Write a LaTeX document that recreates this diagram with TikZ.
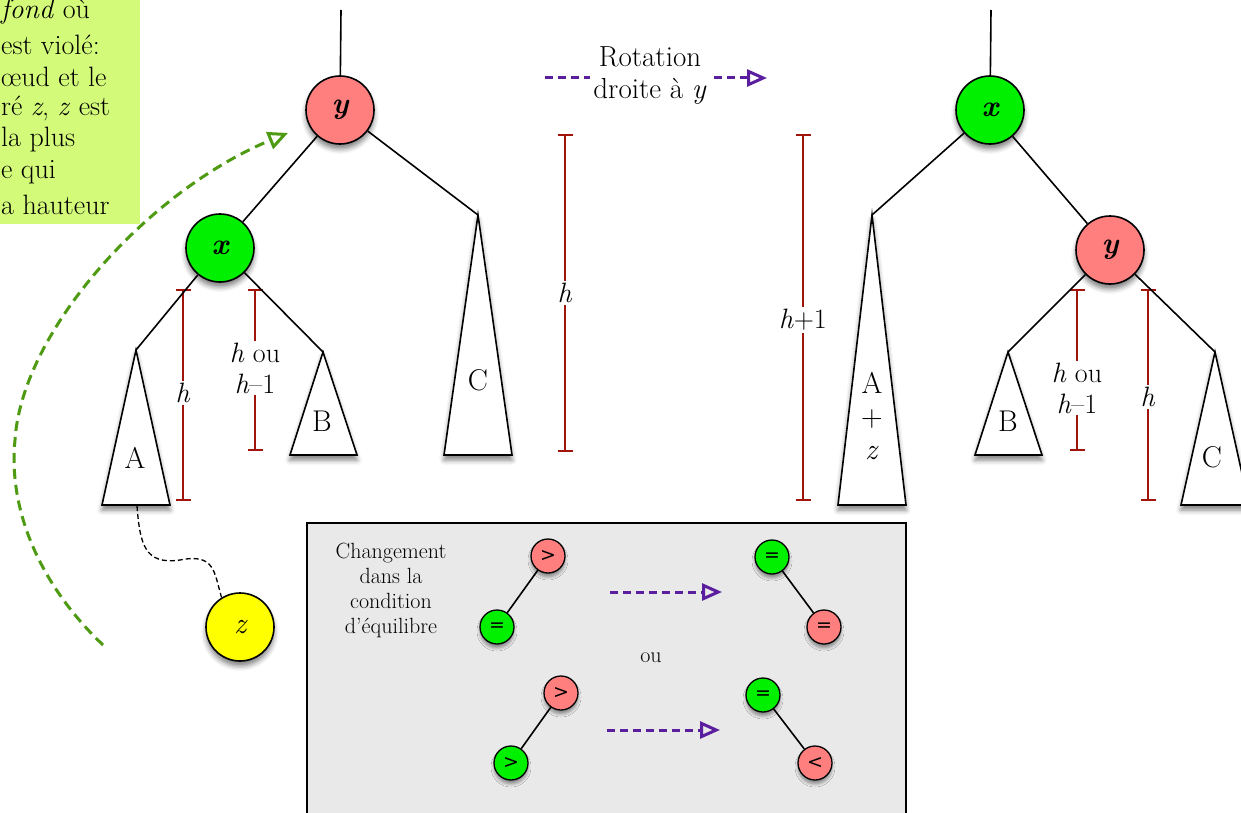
\documentclass[tikz,border=0pt]{standalone}
\usepackage{fontspec}
\newfontfamily\symfont{DejaVu Sans}
\usetikzlibrary{arrows.meta,shadows.blur}
\definecolor{salmon}{HTML}{FF7F7F}
\definecolor{vert}{HTML}{00F000}
\definecolor{jaune}{HTML}{FFFF00}
\definecolor{dimred}{HTML}{A0140A}
\definecolor{violet}{HTML}{5A1E9E}
\definecolor{vertfonce}{HTML}{4E9A12}
\definecolor{vertclair}{HTML}{D4FA7A}
\definecolor{grisfond}{HTML}{E9E9E9}
\begin{document}
\begin{tikzpicture}[x=1pt,y=-1pt,
  shad/.style={blur shadow={shadow xshift=0pt,shadow yshift=-5pt,shadow blur radius=5pt,shadow opacity=50}},
  sshad/.style={blur shadow={shadow xshift=0pt,shadow yshift=-4pt,shadow blur radius=3pt,shadow opacity=40}},
  bignode/.style={circle,draw,line width=1.6pt,minimum size=68pt,inner sep=0pt,shad,
    font=\fontsize{30}{30}\selectfont\bfseries\itshape},
  smallnode/.style={circle,draw,line width=1.3pt,minimum size=34pt,inner sep=0pt,sshad,
    font=\symfont\fontsize{19}{19}\selectfont},
  tri/.style={draw,fill=white,line width=1.6pt,shad},
  trilab/.style={font=\fontsize{30}{33}\selectfont,align=center,inner sep=0pt},
  edge/.style={line width=1.6pt},
  dim/.style={draw=dimred,line width=1.5pt},
  tick/.style={draw=dimred,line width=1.5pt},
  dimlab/.style={fill=white,text=black,inner sep=2pt,font=\fontsize{28}{31}\selectfont,align=center},
  txt/.style={font=\fontsize{28}{32}\selectfont,inner sep=0pt},
  parrow/.style={color=violet,line width=3pt,dash pattern=on 8pt off 5pt,
    -{Triangle[open,length=20pt,width=17pt,line width=3pt]}},
  garrow/.style={color=vertfonce,line width=3pt,dash pattern=on 10pt off 6pt,
    -{Triangle[open,length=20pt,width=18pt,line width=3pt]}},
]
\useasboundingbox (0,0) rectangle (1241,813);

% grey box (drawn first, behind its content)
\filldraw[fill=grisfond,draw=black,line width=1.6pt] (307,523) rectangle (906,830);

% note box (top left)
\fill[vertclair] (0,0) rectangle (140,224);
\node[txt,anchor=west] (n1) at (1,12) {\textit{fond} où};
\node[txt,anchor=west] (n2) at (1,45) {est violé:};
\node[txt,anchor=west] (n3) at (1,77) {œud et le};
\node[txt,anchor=west] (n4) at (1,108) {ré \textit{z}, \textit{z} est};
\node[txt,anchor=west] (n5) at (1,140) {la plus};
\node[txt,anchor=west] (n6) at (1,172) {e qui};
\node[txt,anchor=west] (n7) at (1,205) {a hauteur};

% dimensions (drawn early)
\coordinate (d1a) at (183,290); \coordinate (d1b) at (183,500);
\coordinate (d2a) at (255,290); \coordinate (d2b) at (255,450);
\coordinate (d3a) at (565,135); \coordinate (d3b) at (565,451);
\coordinate (d4a) at (803,135); \coordinate (d4b) at (803,500);
\coordinate (d5a) at (1077,290); \coordinate (d5b) at (1077,450);
\coordinate (d6a) at (1148,290); \coordinate (d6b) at (1148,500);
\foreach \d in {d1,d2,d3,d4,d5,d6}{
  \draw[dim] (\d a) -- (\d b);
  \draw[tick] ([xshift=-7.5pt]\d a) -- ([xshift=7.5pt]\d a);
  \draw[tick] ([xshift=-7.5pt]\d b) -- ([xshift=7.5pt]\d b);
}

% ---------- left tree ----------
\coordinate (topL) at (341,10);
\coordinate (AL) at (136,350);
\coordinate (BL) at (323,352);
\coordinate (CL) at (478,215);
\coordinate (Abot) at (137,506);
\path[tri] (AL) -- (102,505) -- (170,505) -- cycle;
\path[tri] (BL) -- (290,455) -- (357,455) -- cycle;
\path[tri] (CL) -- (444,455) -- (512,455) -- cycle;
\node[trilab] (lA) at (135,458) {A};
\node[trilab] (lB) at (322,421) {B};
\node[trilab] (lC) at (478,380) {C};
\node[bignode,fill=salmon] (yL) at (340,110) {y};
\node[bignode,fill=vert] (xL) at (220,248) {x};
\draw[edge] (yL) -- (topL);
\draw[edge] (yL) -- (xL);
\draw[edge] (yL) -- (CL);
\draw[edge] (xL) -- (AL);
\draw[edge] (xL) -- (BL);

\node[dimlab] (d1) at (183,393) {\textit{h}};
\node[dimlab] (d2) at (255,368) {\textit{h} ou\\\textit{h}–1};
\node[dimlab] (d3) at (565,293) {\textit{h}};

% z node and dashed link
\node[bignode,fill=jaune,font=\fontsize{30}{30}\selectfont\itshape] (z) at (240,627) {z};
\draw[line width=1.3pt,dash pattern=on 5pt off 3pt] (Abot) .. controls (140,545) and (145,565) .. (180,560) .. controls (215,553) and (214,572) .. (z.122);

% green curved arrow
\coordinate (gS) at (103,645);
\coordinate (gM) at (15,440);
\coordinate (gE) at (288,133);
\draw[garrow] (gS) .. controls (40,585) and (8,510) .. (gM) .. controls (22,330) and (150,190) .. (gE);

% rotation label
\coordinate (rS) at (545,78);
\coordinate (rE) at (767,78);
\draw[parrow] (rS) -- (rE);
\node[fill=white,font=\fontsize{29}{32}\selectfont,align=center,inner sep=3pt] (rot) at (650,76) {Rotation\\droite à \textit{y}};

% ---------- right tree ----------
\coordinate (topR) at (991,10);
\coordinate (AR) at (872,215);
\coordinate (BR) at (1008,352);
\coordinate (CR) at (1215,352);
\path[tri] (AR) -- (838,505) -- (906,505) -- cycle;
\path[tri] (BR) -- (975,455) -- (1042,455) -- cycle;
\path[tri] (CR) -- (1181,505) -- (1249,505) -- cycle;
\node[trilab] (lAz) at (872,416) {A\\+\\\textit{z}};
\node[trilab] (lBR) at (1008,421) {B};
\node[trilab] (lCR) at (1212,457) {C};
\node[bignode,fill=vert] (xR) at (990,110) {x};
\node[bignode,fill=salmon] (yR) at (1110,250) {y};
\draw[edge] (xR) -- (topR);
\draw[edge] (xR) -- (AR);
\draw[edge] (xR) -- (yR);
\draw[edge] (yR) -- (BR);
\draw[edge] (yR) -- (CR);

\node[dimlab] (d4) at (803,320) {\textit{h}+1};
\node[dimlab] (d5) at (1077,388) {\textit{h} ou\\\textit{h}–1};
\node[dimlab] (d6) at (1148,397) {\textit{h}};

% ---------- grey box content ----------
\node[font=\fontsize{22}{25}\selectfont,align=center] (chg) at (391,590) {Changement\\dans la\\condition\\d'équilibre};
\node[smallnode,fill=salmon] (s1) at (548,556) {>};
\node[smallnode,fill=vert] (s2) at (497,627) {=};
\node[smallnode,fill=vert] (s3) at (772,557) {=};
\node[smallnode,fill=salmon] (s4) at (824,627) {=};
\node[font=\fontsize{22}{25}\selectfont] (ou) at (651,658) {ou};
\node[smallnode,fill=salmon] (s5) at (561,693) {>};
\node[smallnode,fill=vert] (s6) at (511,763) {>};
\node[smallnode,fill=vert] (s7) at (763,695) {=};
\node[smallnode,fill=salmon] (s8) at (815,763) {<};
\draw[edge] (s1) -- (s2);
\draw[edge] (s3) -- (s4);
\draw[edge] (s5) -- (s6);
\draw[edge] (s7) -- (s8);
\coordinate (a1s) at (610,592); \coordinate (a1e) at (722,592);
\coordinate (a2s) at (607,730); \coordinate (a2e) at (720,730);
\draw[parrow] (a1s) -- (a1e);
\draw[parrow] (a2s) -- (a2e);
\end{tikzpicture}
\end{document}
